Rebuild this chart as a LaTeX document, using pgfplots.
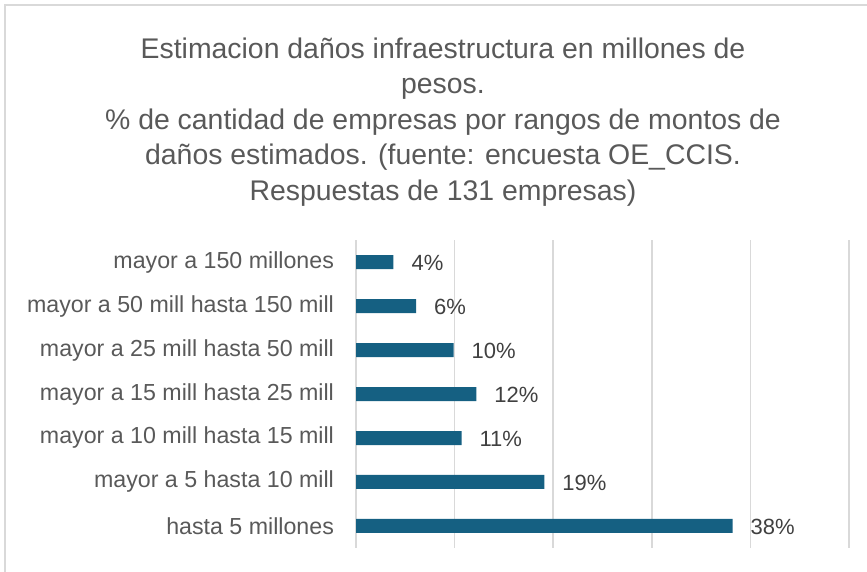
\documentclass[border=0pt]{standalone}
\usepackage{pgfplots}
\pgfplotsset{compat=1.18}
\usepackage{fontspec}
\setmainfont{Liberation Sans}
\definecolor{barblue}{HTML}{156082}
\definecolor{txtgray}{HTML}{595959}
\definecolor{lblgray}{HTML}{404040}
\definecolor{gridgray}{HTML}{D9D9D9}
\begin{document}
\begin{tikzpicture}
\useasboundingbox (0,0) rectangle (433.5pt,286pt);
\draw[gridgray, line width=0.6pt] (2.5pt,0) -- (2.5pt,283.5pt) -- (433.5pt,283.5pt);
\node[align=center, text=txtgray, font=\fontsize{14.2}{17.8}\selectfont] at (221.5pt,225pt)
 {Estimacion daños infraestructura en millones de\\pesos.\\\% de cantidad de empresas por rangos de montos de\\daños estimados. (fuente: encuesta OE\_CCIS.\\Respuestas de 131 empresas)};
\begin{axis}[
  at={(178pt,12pt)}, anchor=south west,
  scale only axis, width=246.5pt, height=154pt,
  xbar, bar width=7pt,
  xmin=0, xmax=50, ymin=-0.5, ymax=6.5,
  xtick={0,10,20,30,40,50}, xticklabels={},
  xmajorgrids, grid style={gridgray, line width=0.8pt},
  axis line style={draw=none},
  major tick length=0pt,
  ytick={0,1,2,3,4,5,6},
  yticklabels={hasta 5 millones, mayor a 5 hasta 10 mill, mayor a 10 mill hasta 15 mill, mayor a 15 mill hasta 25 mill, mayor a 25 mill hasta 50 mill, mayor a 50 mill hasta 150 mill, mayor a 150 millones},
  yticklabel style={font=\fontsize{11.6}{13}\selectfont, text=txtgray, xshift=-7.5pt},
  point meta=x,
  nodes near coords={\pgfmathprintnumber[fixed,precision=0]{\pgfplotspointmeta}\%},
  nodes near coords style={font=\fontsize{11}{13}\selectfont, text=lblgray, anchor=west, xshift=5.5pt, yshift=-0.5pt},
  /pgf/number format/assume math mode=true,
]
\addplot[fill=barblue, draw=none] coordinates {
(38.2,0) (19.1,1) (10.7,2) (12.2,3) (9.9,4) (6.1,5) (3.8,6)};
\end{axis}
\end{tikzpicture}
\end{document}
